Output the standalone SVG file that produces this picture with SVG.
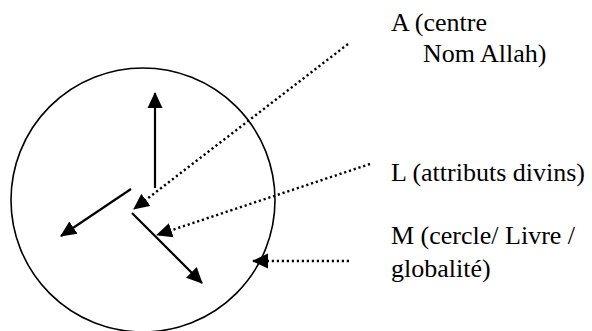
<svg xmlns="http://www.w3.org/2000/svg" width="592" height="331" viewBox="0 0 592 331">
  <style>
    .solid { stroke: #000; stroke-width: 2.2; fill: none; }
    .dot { stroke: #000; stroke-width: 2.4; fill: none; stroke-dasharray: 2.2 2.8; }
  </style>
  <defs>
    <marker id="ah" markerUnits="userSpaceOnUse" markerWidth="16" markerHeight="16" viewBox="0 0 16 16" refX="15" refY="8" orient="auto">
      <path d="M0,0.5 L16,8 L0,15.5 z" fill="#000"/>
    </marker>
  </defs>
  <g id="circle-M">
    <circle cx="143" cy="200" r="132" fill="none" stroke="#000" stroke-width="1.6"/>
  </g>
  <g id="connectors">
    <line class="solid" x1="155" y1="188" x2="155" y2="93" marker-end="url(#ah)"/>
    <line class="solid" x1="131" y1="189" x2="61" y2="236" marker-end="url(#ah)"/>
    <line class="solid" x1="132" y1="213" x2="202" y2="283" marker-end="url(#ah)"/>
    <line class="dot" x1="348" y1="44" x2="134" y2="209" marker-end="url(#ah)"/>
    <line class="dot" x1="370" y1="164" x2="157" y2="235" marker-end="url(#ah)"/>
    <line class="dot" x1="349" y1="261" x2="253" y2="261" marker-end="url(#ah)"/>
  </g>
  <g font-family="'Liberation Serif', 'Times New Roman', serif" font-size="26" fill="#000">
    <g id="label-A">
      <text x="391" y="31">A (centre</text>
      <text x="423" y="62">Nom Allah)</text>
    </g>
    <g id="label-L">
      <text x="391" y="181">L (attributs divins)</text>
    </g>
    <g id="label-M">
      <text x="391" y="244">M (cercle/ Livre /</text>
      <text x="391" y="277">globalité)</text>
    </g>
  </g>
</svg>
